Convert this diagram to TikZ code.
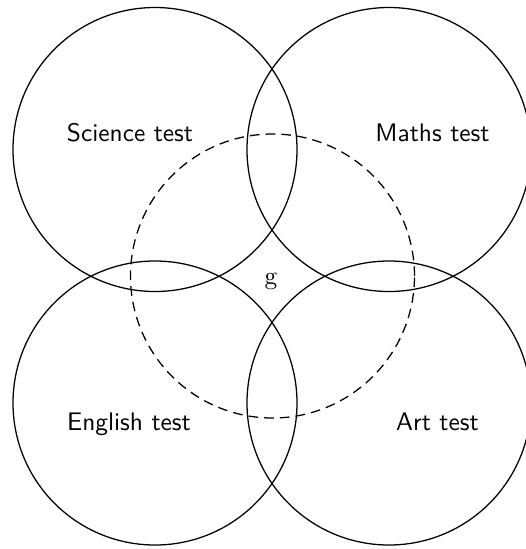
\documentclass[tikz,border=0pt]{standalone}
\begin{document}
\begin{tikzpicture}[x=0.394pt,y=-0.394pt,
  venn/.style={circle,draw,line width=0.5pt,minimum size=111.9pt,inner sep=0pt},
  venndash/.style={venn,dash pattern=on 3.8pt off 2.4pt},
  lab/.style={font=\sffamily,anchor=base,inner sep=0pt}]
\useasboundingbox (0,0) rectangle (526,549);
\node[venn] (sci) at (155,149.5) {};
\node[venn] (mat) at (389,149.5) {};
\node[venn] (eng) at (155,403) {};
\node[venn] (art) at (389,403) {};
\node[venndash] (g) at (272.5,276) {};
\node[lab] (scil) at (130,141.7) {Science test};
\node[lab] (matl) at (432.5,141.7) {Maths test};
\node[lab] (engl) at (129,430) {English test};
\node[lab] (artl) at (437.5,430) {Art test};
\node[lab,font=\rmfamily] (gl) at (271,284) {g};
\end{tikzpicture}
\end{document}
